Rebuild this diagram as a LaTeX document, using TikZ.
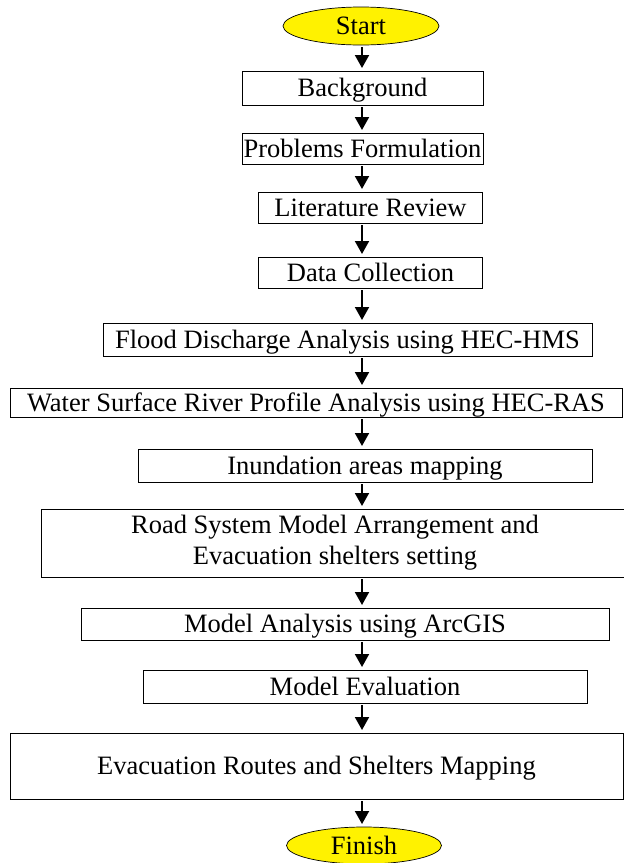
\documentclass[tikz,border=0pt]{standalone}
\usepackage{fontspec}
\setmainfont{Liberation Serif}
\usetikzlibrary{shapes.geometric,arrows.meta}
\begin{document}
\begin{tikzpicture}[x=1pt,y=-1pt,
  every node/.style={font=\fontsize{26.5}{31}\selectfont, inner sep=0pt, outer sep=0pt},
  capc/.style={text height=17.5pt, text depth=0pt},
  box/.style={draw=black, line width=0.9pt, rectangle},
  term/.style={ellipse, draw=black, line width=0.7pt, fill=yellow, capc},
  arr/.style={line width=2pt, -{Triangle[width=14pt,length=13pt]}, shorten <=2pt, shorten >=3pt}]
\useasboundingbox (0,0) rectangle (624,863);
\coordinate (ax) at (362,0);
\node[term, minimum width=156pt, minimum height=38pt] (start) at (361,26) {Start};
\node[box, capc, minimum width=241pt, minimum height=34pt] (bg) at (362.5,88) {Background};
\node[box, capc, minimum width=241pt, minimum height=31pt] (pf) at (362.5,148.5) {Problems Formulation};
\node[box, capc, minimum width=224pt, minimum height=31pt] (lr) at (370.5,207.5) {Literature Review};
\node[box, capc, minimum width=224pt, minimum height=31pt] (dc) at (370.5,272.5) {Data Collection};
\node[box, capc, minimum width=489pt, minimum height=33pt] (fd) at (347.5,339.5) {Flood Discharge Analysis using HEC-HMS};
\node[box, capc, minimum width=612pt, minimum height=29pt] (ws) at (316,402.5) {Water Surface River Profile Analysis using HEC-RAS};
\node[box, capc, minimum width=454pt, minimum height=33pt] (ia) at (365,465.5) {Inundation areas mapping};
\node[box, align=center, minimum width=588pt, minimum height=68pt] (rs) at (335,543) {Road System Model Arrangement and\\Evacuation shelters setting};
\node[box, capc, minimum width=528pt, minimum height=32pt] (ma) at (345,624) {Model Analysis using ArcGIS};
\node[box, capc, minimum width=444pt, minimum height=33pt] (me) at (365,686.5) {Model Evaluation};
\node[box, capc, minimum width=613pt, minimum height=66pt] (er) at (316.5,766) {Evacuation Routes and Shelters Mapping};
\node[term, minimum width=155pt, minimum height=37pt] (fin) at (364,845.5) {Finish};
\draw[arr] (start.south -| ax) -- (bg.north -| ax);
\draw[arr] (bg.south -| ax) -- (pf.north -| ax);
\draw[arr] (pf.south -| ax) -- (lr.north -| ax);
\draw[arr] (lr.south -| ax) -- (dc.north -| ax);
\draw[arr] (dc.south -| ax) -- (fd.north -| ax);
\draw[arr] (fd.south -| ax) -- (ws.north -| ax);
\draw[arr] (ws.south -| ax) -- (ia.north -| ax);
\draw[arr] (ia.south -| ax) -- (rs.north -| ax);
\draw[arr] (rs.south -| ax) -- (ma.north -| ax);
\draw[arr] (ma.south -| ax) -- (me.north -| ax);
\draw[arr] (me.south -| ax) -- (er.north -| ax);
\draw[arr] (er.south -| ax) -- (fin.north -| ax);
\end{tikzpicture}
\end{document}
